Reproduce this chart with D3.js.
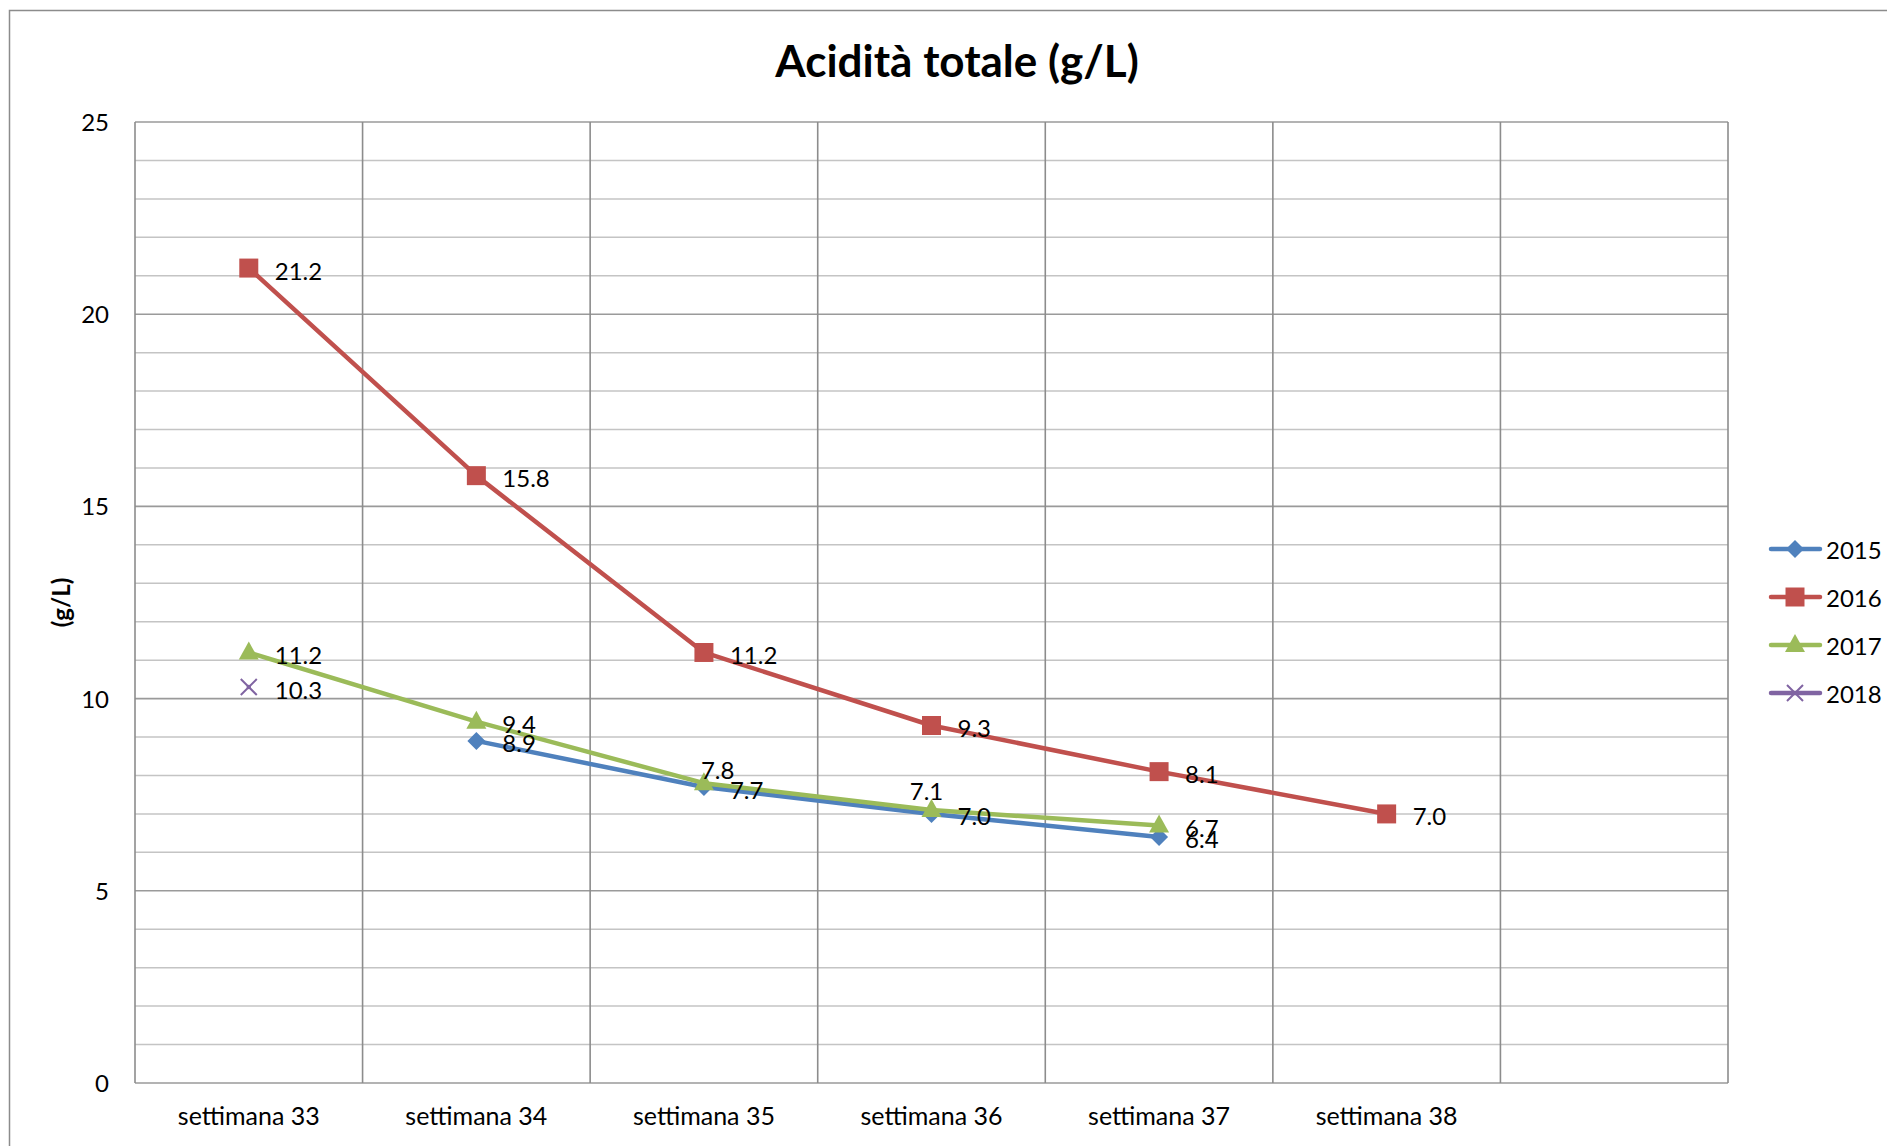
<!DOCTYPE html>
<html><head><meta charset="utf-8">
<script src="https://cdn.jsdelivr.net/npm/d3@7"></script>
<style>
html,body{margin:0;padding:0;background:#fff;}
svg text{font-family:Lato,"Open Sans",sans-serif;fill:#000;}
</style></head>
<body>
<svg id="chart" width="1887" height="1146"></svg>
<script>
const categories = ["settimana 33","settimana 34","settimana 35","settimana 36","settimana 37","settimana 38",""];
const seriesNames = ["2015","2016","2017","2018"];
const values2015 = [null, 8.9, 7.7, 7.0, 6.4, null, null];
const values2016 = [21.2, 15.8, 11.2, 9.3, 8.1, 7.0, null];
const values2017 = [11.2, 9.4, 7.8, 7.1, 6.7, null, null];
const values2018 = [10.3, null, null, null, null, null, null];
const yTicks = [0, 5, 10, 15, 20, 25];
const title = "Acidità totale (g/L)";
const yTitle = "(g/L)";

const colors = {"2015":"#4F81BD","2016":"#C0504D","2017":"#9BBB59","2018":"#8064A2"};
const markers = {"2015":"diamond","2016":"square","2017":"triangle","2018":"cross"};
const seriesValues = {"2015":values2015,"2016":values2016,"2017":values2017,"2018":values2018};
// label placement tweaks (style only)
const labelTweak = {"2017-2":{anchor:"start",dx:-3,dy:-14},"2017-3":{anchor:"middle",dx:-5,dy:-20}};
const FS = 24;

const svg = d3.select("#chart");
const W = 1887, H = 1146;
const m = {left:135, right:1728, top:122, bottom:1083};

// outer border
svg.append("rect").attr("x",9.5).attr("y",10.5).attr("width",W+20).attr("height",H+20)
  .attr("fill","none").attr("stroke","#8c8c8c").attr("stroke-width",1.5);

const x = d3.scaleBand().domain(categories.map((c,i)=>i)).range([m.left,m.right]).padding(0);
const y = d3.scaleLinear().domain([0,25]).range([m.bottom,m.top]);

const g = svg.append("g");
g.selectAll(".minor").data(d3.range(0,26,1).filter(v=>v%5!==0)).join("line")
  .attr("x1",m.left).attr("x2",m.right).attr("y1",d=>y(d)).attr("y2",d=>y(d))
  .attr("stroke","#c4c4c4").attr("stroke-width",1.5);
g.selectAll(".major").data(yTicks).join("line")
  .attr("x1",m.left).attr("x2",m.right).attr("y1",d=>y(d)).attr("y2",d=>y(d))
  .attr("stroke","#9a9a9a").attr("stroke-width",1.6);
const bounds = categories.map((c,i)=>x(i)).concat([m.right]);
g.selectAll(".vg").data(bounds).join("line")
  .attr("x1",d=>d).attr("x2",d=>d).attr("y1",m.top).attr("y2",m.bottom)
  .attr("stroke","#8c8c8c").attr("stroke-width",1.6);

const yAxis = d3.axisLeft(y).tickValues(yTicks).tickSize(0).tickPadding(0).tickFormat(d3.format("d"));
const ya = svg.append("g").attr("transform",`translate(${m.left-26},0)`).call(yAxis);
ya.select(".domain").remove();
ya.selectAll("text").attr("font-size",FS).attr("font-family","Lato").attr("fill","#000").attr("dy","0.35em");

const xAxis = d3.axisBottom(x).tickSize(0).tickPadding(0).tickFormat(i=>categories[i]);
const xa = svg.append("g").attr("transform",`translate(0,${m.bottom+24})`).call(xAxis);
xa.select(".domain").remove();
xa.selectAll("text").attr("font-size",FS+1).attr("font-family","Lato").attr("fill","#000").attr("dy","0.72em");

svg.append("text").attr("x",957).attr("y",60).attr("text-anchor","middle").attr("dominant-baseline","central")
  .attr("font-size",44).attr("font-weight","bold").text(title);
svg.append("text").attr("transform",`translate(60,${(m.top+m.bottom)/2}) rotate(-90)`)
  .attr("text-anchor","middle").attr("dominant-baseline","central")
  .attr("font-size",24).attr("font-weight","bold").text(yTitle);

function markerPath(type){
  if(type==="diamond") return "M0,-9L9,0L0,9L-9,0Z";
  if(type==="square") return "M-9.5,-9.5H9.5V9.5H-9.5Z";
  if(type==="triangle") return "M0,-11L10,7H-10Z";
  return "M-8,-8L8,8M-8,8L8,-8";
}

const line = d3.line().defined(d=>d.v!==null).x(d=>x(d.i)+x.bandwidth()/2).y(d=>y(d.v));

seriesNames.forEach(name=>{
  const data = seriesValues[name].map((v,i)=>({v,i}));
  const col = colors[name];
  svg.append("path").datum(data).attr("d",line).attr("fill","none")
    .attr("stroke",col).attr("stroke-width",4.5).attr("stroke-linejoin","round").attr("stroke-linecap","round");
  const pts = data.filter(d=>d.v!==null);
  const mk = markers[name];
  svg.selectAll(null).data(pts).join("path")
    .attr("transform",d=>`translate(${x(d.i)+x.bandwidth()/2},${y(d.v)})`)
    .attr("d", markerPath(mk))
    .attr("fill", mk==="cross"?"none":col)
    .attr("stroke", mk==="cross"?col:"none").attr("stroke-width",2);
});
seriesNames.forEach(name=>{
  const data = seriesValues[name].map((v,i)=>({v,i})).filter(d=>d.v!==null);
  svg.selectAll(null).data(data).join("text")
    .attr("x",d=>{const t=labelTweak[name+"-"+d.i]; return x(d.i)+x.bandwidth()/2+(t?t.dx:26);})
    .attr("y",d=>{const t=labelTweak[name+"-"+d.i]; return y(d.v)+(t?t.dy:2);})
    .attr("text-anchor",d=>{const t=labelTweak[name+"-"+d.i]; return t?t.anchor:"start";})
    .attr("dominant-baseline","central")
    .attr("font-size",FS).text(d=>d3.format(".1f")(d.v));
});

const lg = svg.append("g");
seriesNames.forEach((name,k)=>{
  const yy = 549 + k*48;
  const col = colors[name];
  lg.append("line").attr("x1",1771).attr("x2",1820).attr("y1",yy).attr("y2",yy)
    .attr("stroke",col).attr("stroke-width",4.5).attr("stroke-linecap","round");
  const mk = markers[name];
  lg.append("path").attr("transform",`translate(1795,${yy})`)
    .attr("d", markerPath(mk))
    .attr("fill", mk==="cross"?"none":col)
    .attr("stroke", mk==="cross"?col:"none").attr("stroke-width",2);
  lg.append("text").attr("x",1826).attr("y",yy).attr("dominant-baseline","central")
    .attr("font-size",FS).text(name);
});
</script>
</body></html>
